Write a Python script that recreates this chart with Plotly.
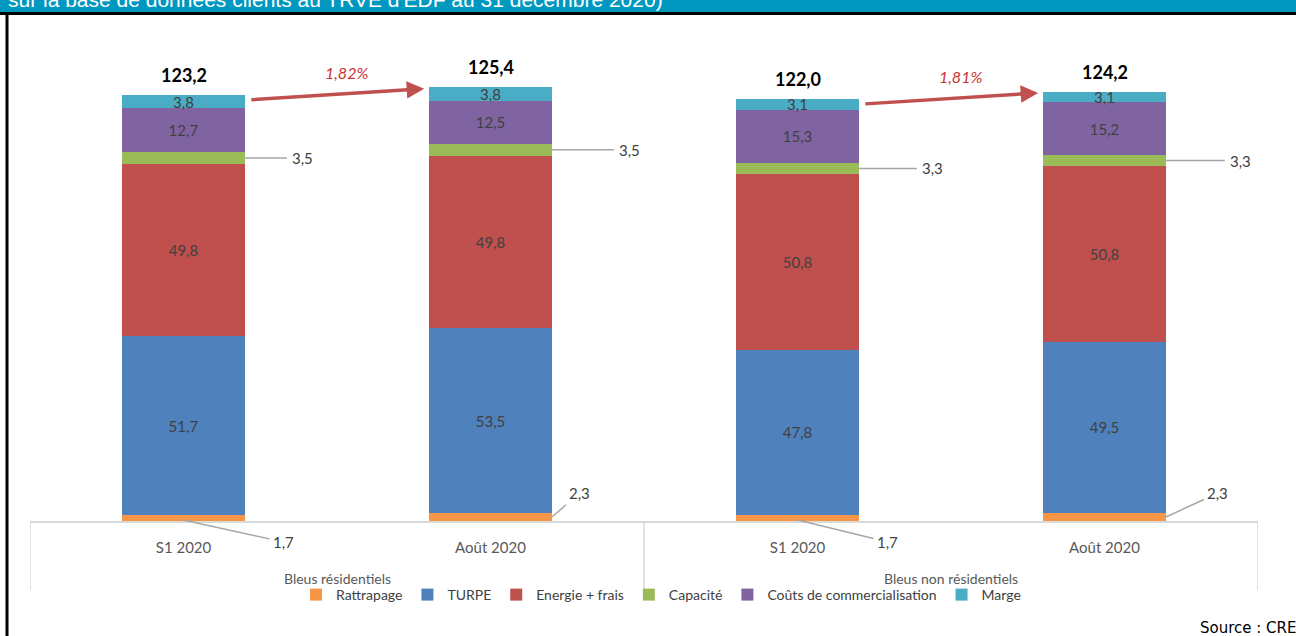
import plotly.graph_objects as go

# ---------------- data ----------------
x_pos = [0, 1, 2, 3]
period_labels = ["S1 2020", "Août 2020", "S1 2020", "Août 2020"]
group_labels = ["Bleus résidentiels", "Bleus non résidentiels"]
group_centers = [0.5, 2.5]

rattrapage = [1.7, 2.3, 1.7, 2.3]
turpe = [51.7, 53.5, 47.8, 49.5]
energie = [49.8, 49.8, 50.8, 50.8]
capacite = [3.5, 3.5, 3.3, 3.3]
couts = [12.7, 12.5, 15.3, 15.2]
marge = [3.8, 3.8, 3.1, 3.1]

pct_change = ["1,82%", "1,81%"]
title_text = "sur la base de données clients au TRVE d'EDF au 31 décembre 2020)"
source_text = "Source : CRE"

series = [
    ("Rattrapage", rattrapage, "#F79646", False),
    ("TURPE", turpe, "#4F81BD", True),
    ("Energie + frais", energie, "#C0504D", True),
    ("Capacité", capacite, "#9BBB59", False),
    ("Coûts de commercialisation", couts, "#8064A2", True),
    ("Marge", marge, "#4BACC6", True),
]

# ---------------- geometry helpers ----------------
W, H = 1296, 636
L, R, T, B = 30, 1258, 40, 521
YMAX = 139.1
FONT = "Lato"


def pxx(px):
    return (px - L) / (R - L)


def pyy(py):
    return (B - py) / (B - T)


fig = go.Figure()
for name, vals, color, show_text in series:
    fig.add_trace(go.Bar(
        x=x_pos, y=vals, name=name,
        marker=dict(color=color, line=dict(width=0)),
        width=0.4,
        text=[f"{v:.1f}".replace(".", ",") for v in vals] if show_text else None,
        textposition="inside" if show_text else "none",
        insidetextanchor="middle",
        textfont=dict(family=FONT, size=15, color="#404040"),
        hoverinfo="skip",
    ))

totals = [sum(s[1][i] for s in series) for i in range(4)]

annotations = []
# totals above bars
for i, t in enumerate(totals):
    annotations.append(dict(
        x=x_pos[i], y=t, xref="x", yref="y", yanchor="bottom", yshift=7,
        text=f"<b>{t:.1f}</b>".replace(".", ","), showarrow=False,
        font=dict(family=FONT, size=18, color="#000000")))

# capacity leader labels
cap_offsets = [46, 66, 62, 63]
for i in range(4):
    ymid = rattrapage[i] + turpe[i] + energie[i] + capacite[i] / 2
    annotations.append(dict(
        x=x_pos[i] + 0.2, y=ymid, xref="x", yref="y",
        ax=cap_offsets[i] + 12, ay=0, showarrow=True, arrowhead=0,
        arrowwidth=1.5, arrowcolor="#A6A6A6", borderpad=5,
        text=f"{capacite[i]:.1f}".replace(".", ","),
        font=dict(family=FONT, size=15, color="#404040")))

# rattrapage leader labels
ratt_anchor_dx = [0.0, 0.2, 0.0, 0.2]
ratt_offsets = [(100, 22), (28, -24), (90, 22), (52, -24)]
for i in range(4):
    annotations.append(dict(
        x=x_pos[i] + ratt_anchor_dx[i], y=rattrapage[i] / 2 if ratt_anchor_dx[i] else 0.3,
        xref="x", yref="y",
        ax=ratt_offsets[i][0], ay=ratt_offsets[i][1], showarrow=True, arrowhead=0,
        arrowwidth=1.5, arrowcolor="#A6A6A6", borderpad=3,
        text=f"{rattrapage[i]:.1f}".replace(".", ","),
        font=dict(family=FONT, size=15, color="#404040")))

# evolution arrows
for g in range(2):
    a, b = 2 * g, 2 * g + 1
    x0, x1 = x_pos[a] + 0.216, x_pos[b] - 0.216
    y0, y1 = totals[a] - 1.4, totals[b] - 0.4
    annotations.append(dict(
        x=x1, y=y1, ax=x0, ay=y0, xref="x", yref="y", axref="x", ayref="y",
        text="", showarrow=True, arrowhead=2, arrowsize=1, arrowwidth=3.5,
        arrowcolor="#C0504D"))
    annotations.append(dict(
        x=(x0 + x1) / 2 + 0.03, y=(totals[a] + totals[b]) / 2 + 5.5,
        xref="x", yref="y", text=f"<i>{pct_change[g]}</i>", showarrow=False,
        font=dict(family=FONT, size=16, color="#CC3333")))

# group labels
for lbl, c in zip(group_labels, group_centers):
    annotations.append(dict(
        x=c, y=pyy(578), xref="x", yref="paper", yanchor="middle",
        text=lbl, showarrow=False,
        font=dict(family=FONT, size=14, color="#595959")))

# header title (cut, as in the source image) and source
annotations.append(dict(
    x=pxx(6), y=pyy(-1), xref="paper", yref="paper", xanchor="left", yanchor="middle",
    text=title_text, showarrow=False,
    font=dict(family="Liberation Sans", size=21, color="#FFFFFF")))
annotations.append(dict(
    x=pxx(1198), y=pyy(628), xref="paper", yref="paper", xanchor="left", yanchor="middle",
    text=source_text, showarrow=False,
    font=dict(family="DejaVu Sans", size=15, color="#000000")))

shapes = [
    # header band
    dict(type="rect", xref="paper", yref="paper", x0=pxx(-5), x1=pxx(W + 5),
         y0=pyy(12.5), y1=pyy(-5), fillcolor="#0098BF", line=dict(width=0), layer="below"),
    # black frame lines
    dict(type="line", xref="paper", yref="paper", x0=pxx(-5), x1=pxx(W + 5),
         y0=pyy(13.5), y1=pyy(13.5), line=dict(color="#000000", width=3)),
    dict(type="line", xref="paper", yref="paper", x0=pxx(7), x1=pxx(7),
         y0=pyy(13), y1=pyy(H + 5), line=dict(color="#000000", width=3)),
]
for xd in [-0.5, 1.5, 3.5]:
    shapes.append(dict(type="line", xref="x", yref="paper", x0=xd, x1=xd,
                       y0=0, y1=pyy(590), line=dict(color="#D9D9D9", width=1.5)))

fig.update_layout(
    width=W, height=H,
    margin=dict(l=L, r=W - R, t=T, b=H - B, pad=0),
    barmode="stack",
    separators=", ",
    paper_bgcolor="#FFFFFF", plot_bgcolor="#FFFFFF",
    uniformtext=dict(minsize=15, mode="show"),
    showlegend=True,
    legend=dict(orientation="h", x=pxx(661), xanchor="center", y=pyy(579), yanchor="top",
                font=dict(family=FONT, size=14, color="#404040"),
                itemwidth=30, traceorder="normal", bgcolor="rgba(0,0,0,0)"),
    xaxis=dict(range=[-0.5, 3.5], tickvals=x_pos, ticktext=period_labels,
               showgrid=False, zeroline=False, showline=True, linecolor="#D9D9D9",
               linewidth=2, ticks="", ticklabelstandoff=12,
               tickfont=dict(family=FONT, size=15, color="#595959"), fixedrange=True),
    yaxis=dict(range=[0, YMAX], visible=False, fixedrange=True),
    annotations=annotations,
    shapes=shapes,
)

fig.write_html(
    "out.html",
    config={"displayModeBar": False},
    post_script="document.body.style.margin='0';document.body.style.overflow='hidden';",
)
